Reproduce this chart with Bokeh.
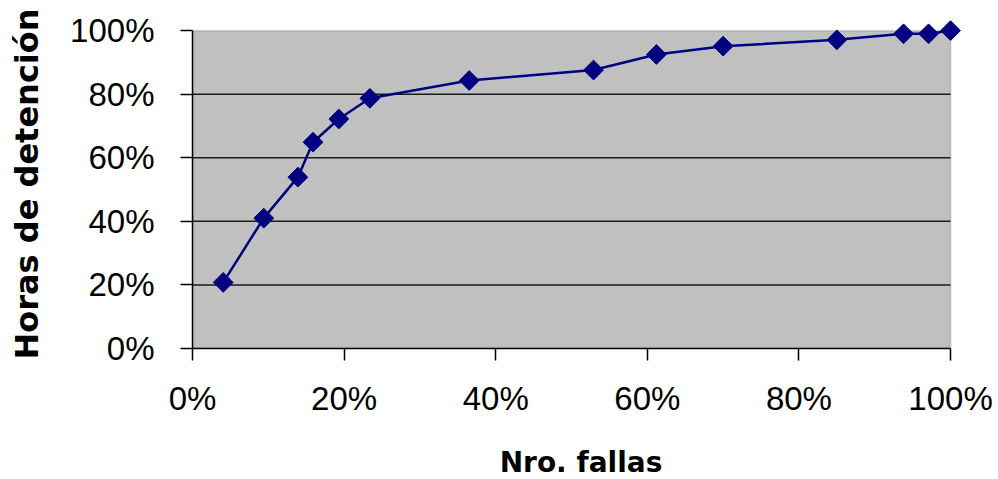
import math
from bokeh.plotting import figure
from bokeh.models import Range1d, FixedTicker, NumeralTickFormatter, BoxAnnotation
from bokeh.embed import file_html
from bokeh.resources import INLINE

# Data (percent)
fallas_pct = [4.05, 9.4, 13.9, 15.9, 19.3, 23.4, 36.5, 52.9, 61.2, 70.0, 85.0, 93.8, 97.1, 100.0]
horas_pct = [20.8, 41.0, 53.9, 64.9, 72.2, 78.7, 84.3, 87.6, 92.5, 95.1, 97.1, 99.0, 99.0, 100.0]
tick_values = [0.0, 0.2, 0.4, 0.6, 0.8, 1.0]
x_title = "Nro. fallas"
y_title = "Horas de detención"

xs = [v / 100 for v in fallas_pct]
ys = [v / 100 for v in horas_pct]

p = figure(
    frame_width=777, frame_height=329,
    x_range=Range1d(0, 1.025), y_range=Range1d(0, 1.035),
    output_backend="svg", toolbar_location=None,
    min_border_left=192, min_border_top=19, min_border_right=26, min_border_bottom=126,
)
p.background_fill_color = "white"
p.border_fill_color = "white"
p.outline_line_color = None
p.xgrid.visible = False
p.ygrid.visible = False

# gray plot area
p.add_layout(BoxAnnotation(left=0, right=1, bottom=0, top=1,
                           fill_color="#C0C0C0", fill_alpha=1.0,
                           line_color="#808080", line_width=2, level="underlay"))

# horizontal gridlines at inner ticks
inner = tick_values[1:-1]
p.segment(x0=[0] * len(inner), x1=[1] * len(inner), y0=inner, y1=inner,
          line_color="#1a1a1a", line_width=1.5)

p.line(xs, ys, line_color="#000080", line_width=2.5)
p.scatter(xs, ys, marker="square", angle=math.pi / 4, size=14,
          fill_color="#000080", line_color="#000080")

for ax in (p.xaxis[0], p.yaxis[0]):
    ax.ticker = FixedTicker(ticks=tick_values)
    ax.formatter = NumeralTickFormatter(format="0%")
    ax.bounds = (0, 1)
    ax.axis_line_color = "black"
    ax.axis_line_width = 1.5
    ax.major_tick_line_color = "black"
    ax.major_tick_line_width = 1.5
    ax.major_tick_out = 12
    ax.major_tick_in = 0
    ax.minor_tick_line_color = None
    ax.major_label_text_font = "Liberation Sans"
    ax.major_label_text_font_size = "33px"
    ax.major_label_text_color = "black"
    ax.axis_label_text_font = "DejaVu Sans"
    ax.axis_label_text_font_style = "bold"
    ax.axis_label_text_color = "black"

p.xaxis[0].axis_label = x_title
p.xaxis[0].axis_label_text_font_size = "28px"
p.xaxis[0].major_label_standoff = 19
p.xaxis[0].axis_label_standoff = 26

p.yaxis[0].axis_label = y_title
p.yaxis[0].axis_label_text_font_size = "32px"
p.yaxis[0].major_label_standoff = 26
p.yaxis[0].axis_label_standoff = 21

open("out.html", "w").write(file_html(p, INLINE))
